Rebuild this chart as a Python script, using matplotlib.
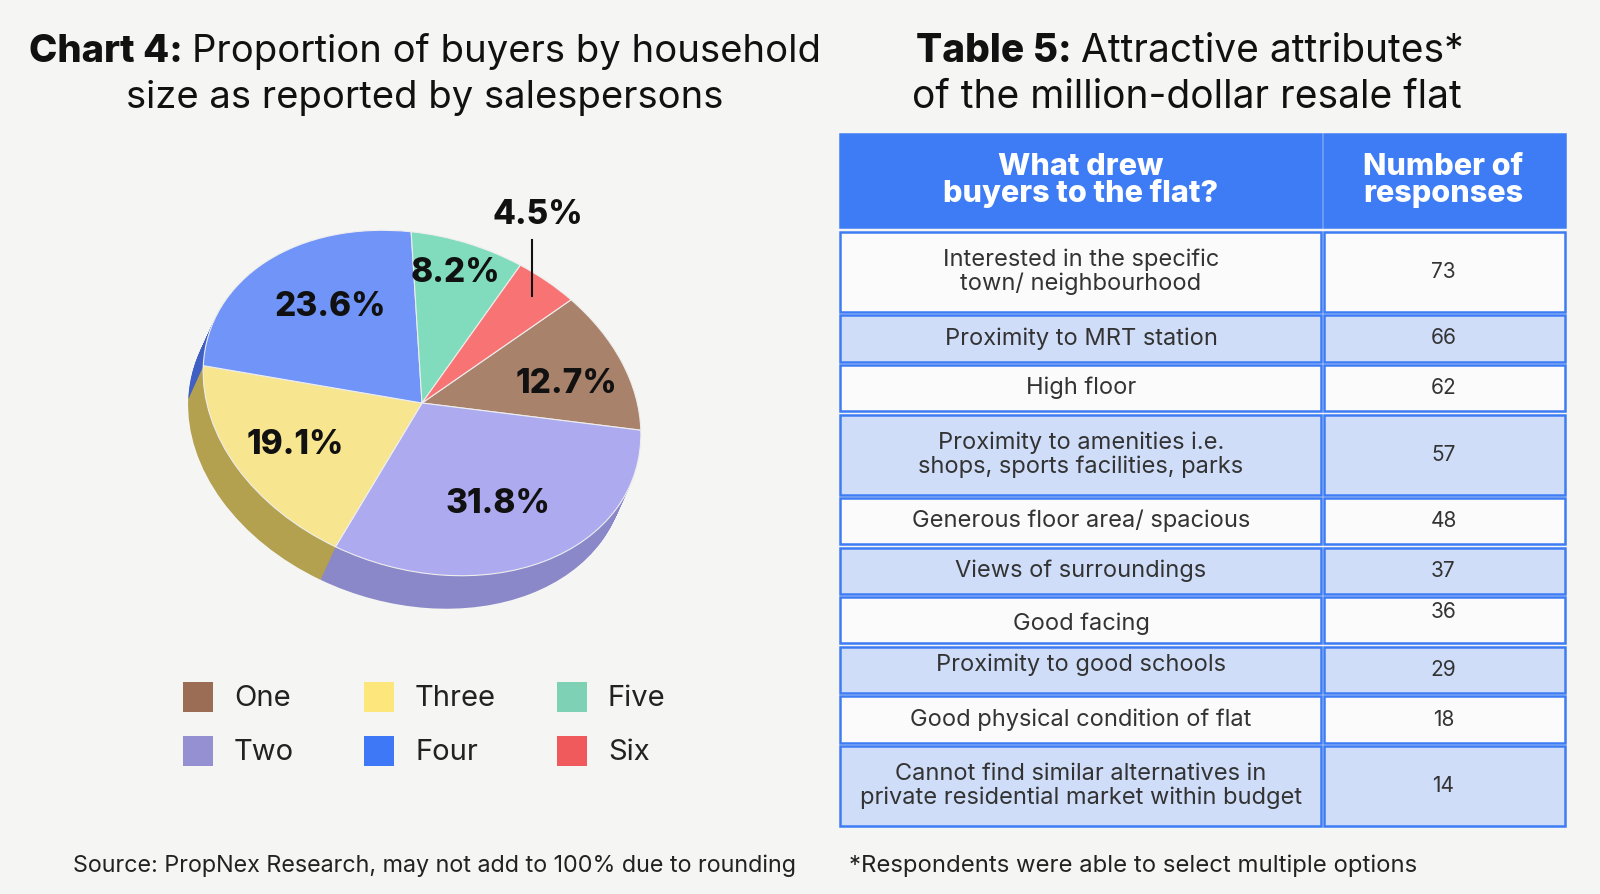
import numpy as np
import matplotlib
matplotlib.use("Agg")
import matplotlib.pyplot as plt
from matplotlib.patches import Wedge, Rectangle
from matplotlib.transforms import Affine2D

# ---------------------------------------------------------
# Data
# ---------------------------------------------------------
sizes = ["One", "Two", "Three", "Four", "Five", "Six"]
shares = [12.7, 31.8, 19.1, 23.6, 8.2, 4.5]

attributes = [
    "Interested in the specific\ntown/ neighbourhood",
    "Proximity to MRT station",
    "High floor",
    "Proximity to amenities i.e.\nshops, sports facilities, parks",
    "Generous floor area/ spacious",
    "Views of surroundings",
    "Good facing",
    "Proximity to good schools",
    "Good physical condition of flat",
    "Cannot find similar alternatives in\nprivate residential market within budget",
]
responses = [73, 66, 62, 57, 48, 37, 36, 29, 18, 14]

# ---------------------------------------------------------
# Style
# ---------------------------------------------------------
bg = "#f5f5f4"
legend_colors = ["#9b6d55", "#9590d2", "#fde77c", "#3f78f7", "#7fd1b6", "#f05a5c"]
top_colors = ["#a9826b", "#aeaaef", "#f7e58f", "#7094f7", "#80dcbc", "#f87474"]
side_colors = ["#7d5c48", "#8b88c9", "#b3a150", "#3f5fc4", "#5aa98f", "#c95252"]
blue = "#3d7cf4"
text_dark = "#333333"

plt.rcParams['font.family'] = ['Inter', 'DejaVu Sans']

fig = plt.figure(figsize=(16, 8.94), dpi=100, facecolor=bg)
ax = fig.add_axes([0, 0, 1, 1])
ax.set_xlim(0, 1600)
ax.set_ylim(894, 0)
ax.axis("off")
renderer = fig.canvas.get_renderer()


def title_line(xc, y, bold, regular, size):
    t1 = ax.text(0, y, bold, fontsize=size, fontweight="heavy", va="baseline", ha="left", color="#111")
    t2 = ax.text(0, y, regular, fontsize=size, va="baseline", ha="left", color="#111")
    w1 = t1.get_window_extent(renderer).width
    w2 = t2.get_window_extent(renderer).width
    gap = size * 0.35
    x0 = xc - (w1 + gap + w2) / 2
    t1.set_x(x0)
    t2.set_x(x0 + w1 + gap)


title_line(425, 62, "Chart 4:", "Proportion of buyers by household", 27.5)
ax.text(425, 108, "size as reported by salespersons", fontsize=27.5, ha="center", va="baseline", color="#111")
title_line(1190, 62, "Table 5:", "Attractive attributes*", 28)
ax.text(1187, 108, "of the million-dollar resale flat", fontsize=28, ha="center", va="baseline", color="#111")

# ---------------------------------------------------------
# Tilted 3D-looking pie
# ---------------------------------------------------------
cx, cy = 422, 403
a, b = 224, 166
tilt = -18.5
start = 61
depth = np.array([-15.0, 33.0])
steps = 33

fracs = np.array(shares) / np.sum(shares)
ends = start - np.concatenate([[0], np.cumsum(fracs)[:-1]]) * 360
begins = ends - fracs * 360


def geo(dx=0.0, dy=0.0):
    return Affine2D().scale(a, b).rotate_deg(tilt).scale(1, -1).translate(cx + dx, cy + dy)


# side walls: stacked copies, back to front
for k in range(steps, 0, -1):
    off = depth * k / steps
    tf = geo(*off) + ax.transData
    for i in range(len(shares)):
        w = Wedge((0, 0), 1, begins[i], ends[i], facecolor=side_colors[i], lw=0, transform=tf)
        ax.add_patch(w)

tf_top = geo() + ax.transData
for i in range(len(shares)):
    w = Wedge((0, 0), 1, begins[i], ends[i], facecolor=top_colors[i],
              edgecolor="#eeeeee", lw=0.8, transform=tf_top)
    ax.add_patch(w)

# labels
lab_r = [0.70, 0.633, 0.68, 0.642, 0.805, 0.88]
lab_dt = [-5, -1, -1, -4.6, 1, 0]
g = geo()
for i, v in enumerate(shares):
    mid = np.deg2rad((begins[i] + ends[i]) / 2 + lab_dt[i])
    x, y = g.transform_point((lab_r[i] * np.cos(mid), lab_r[i] * np.sin(mid)))
    if i == len(shares) - 1:
        ax.plot([x, x], [y, y - 56], color="#111", lw=1.5)
        ax.text(x + 6, y - 81, f"{v}%", fontsize=24, fontweight="heavy", ha="center", va="center", color="#111")
    else:
        ax.text(x, y, f"{v}%", fontsize=24, fontweight="heavy", ha="center", va="center", color="#111")

# legend
leg_x = [183, 364, 557]
leg_y = [682, 736]
for i, name in enumerate(sizes):
    col, row = i // 2, i % 2
    ax.add_patch(Rectangle((leg_x[col], leg_y[row]), 30, 30, facecolor=legend_colors[i], lw=0))
    ax.text(leg_x[col] + 51, leg_y[row] + 16, name, fontsize=21, ha="left", va="center", color="#222")

# ---------------------------------------------------------
# Table
# ---------------------------------------------------------
x_left, x_div, x_right = 840, 1322, 1565
cgap = 3
head_top, head_bot = 134, 227
row_top = 232
h1, h2, rgap = 46.2, 80, 3.4
lw_cell = 1.8

ax.add_patch(Rectangle((x_left, head_top), x_div - cgap / 2 - x_left, head_bot - head_top,
                       facecolor=blue, edgecolor=blue, lw=lw_cell))
ax.add_patch(Rectangle((x_div + cgap / 2, head_top), x_right - x_div - cgap / 2, head_bot - head_top,
                       facecolor=blue, edgecolor=blue, lw=lw_cell))
hy = (head_top + head_bot) / 2
ax.text((x_left + x_div) / 2, hy, "What drew\nbuyers to the flat?", fontsize=22, fontweight="heavy",
        color="white", ha="center", va="center", linespacing=0.95)
ax.text((x_div + x_right) / 2, hy, "Number of\nresponses", fontsize=22, fontweight="heavy",
        color="white", ha="center", va="center", linespacing=0.95)

text_dy = {6: 3, 7: -5}
num_dy = {6: -8}
y = row_top
for i, (attr, n) in enumerate(zip(attributes, responses)):
    h = h2 if "\n" in attr else h1
    fill = "#fbfbfb" if i % 2 == 0 else "#cfddf8"
    ax.add_patch(Rectangle((x_left, y), x_div - cgap / 2 - x_left, h, facecolor=fill, edgecolor=blue, lw=lw_cell))
    ax.add_patch(Rectangle((x_div + cgap / 2, y), x_right - x_div - cgap / 2, h, facecolor=fill, edgecolor=blue, lw=lw_cell))
    ym = y + h / 2
    ax.text((x_left + x_div) / 2, ym + text_dy.get(i, 0), attr, fontsize=17, color=text_dark,
            ha="center", va="center", linespacing=1.1)
    ax.text((x_div + x_right) / 2, ym + num_dy.get(i, 0), str(n), fontsize=15, color=text_dark,
            ha="center", va="center")
    y += h + rgap

# footers
ax.text(73, 866, "Source: PropNex Research, may not add to 100% due to rounding", fontsize=16.8,
        color="#222", ha="left", va="center")
ax.text(849, 866, "*Respondents were able to select multiple options", fontsize=17.2,
        color="#222", ha="left", va="center")

fig.savefig("out.png", dpi=100, facecolor=bg)
